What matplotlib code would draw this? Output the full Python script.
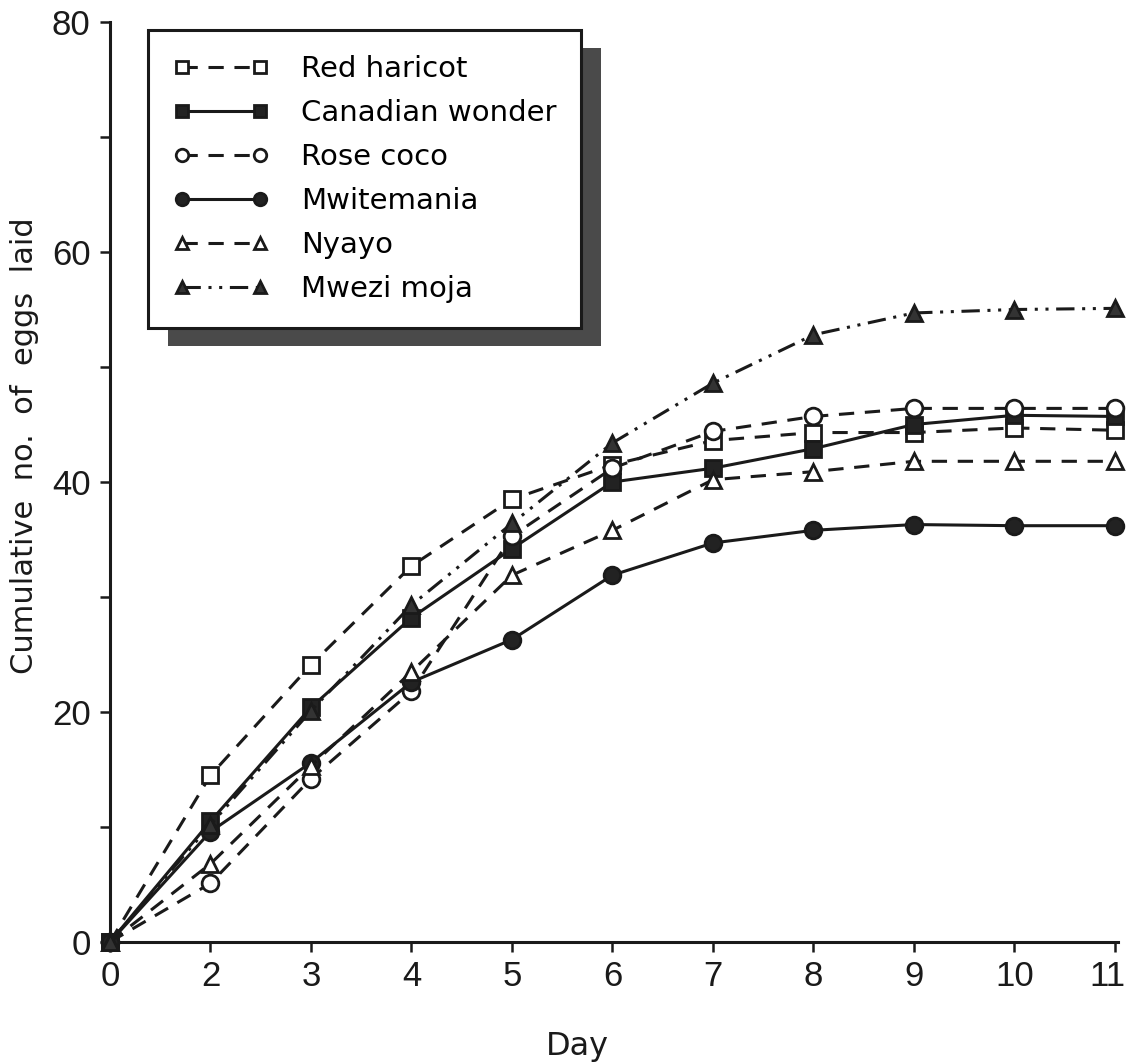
import matplotlib
matplotlib.use("Agg")
import matplotlib.pyplot as plt
from matplotlib.patches import Rectangle
from matplotlib.transforms import IdentityTransform, ScaledTranslation

# cumulative eggs laid per bean variety
day_labels = ["0", "2", "3", "4", "5", "6", "7", "8", "9", "10", "11"]
red_haricot = [0, 14.5, 24.1, 32.7, 38.5, 41.5, 43.6, 44.3, 44.3, 44.7, 44.5]
canadian_wonder = [0, 10.5, 20.4, 28.2, 34.2, 40.0, 41.2, 42.9, 45.0, 45.8, 45.7]
rose_coco = [0, 5.1, 14.2, 21.8, 35.3, 41.2, 44.4, 45.7, 46.4, 46.4, 46.4]
mwitemania = [0, 9.6, 15.6, 22.6, 26.3, 31.9, 34.7, 35.8, 36.3, 36.2, 36.2]
nyayo = [0, 6.8, 15.3, 23.5, 31.9, 35.8, 40.2, 40.9, 41.8, 41.8, 41.8]
mwezi_moja = [0, 10.2, 20.1, 29.3, 36.4, 43.4, 48.6, 52.8, 54.7, 55.0, 55.1]

plt.rcParams["font.family"] = ["DejaVu Sans"]
tick_font = ["Liberation Sans", "DejaVu Sans"]

fig = plt.figure(figsize=(11.29, 10.62), dpi=100)
ax = fig.add_axes([110 / 1129, 120 / 1062, 1008 / 1129, 920 / 1062])

pos = list(range(len(day_labels)))
dash = (0, (5, 3.5))
dashdotdot = (0, (6, 2.5, 1, 2.5, 1, 2.5))

series = [
    ("Red haricot", red_haricot, "s", "white", dash),
    ("Canadian wonder", canadian_wonder, "s", "#222222", "-"),
    ("Rose coco", rose_coco, "o", "white", dash),
    ("Mwitemania", mwitemania, "o", "#222222", "-"),
    ("Nyayo", nyayo, "^", "white", dash),
    ("Mwezi moja", mwezi_moja, "^", "#333333", dashdotdot),
]

for i, (name, vals, marker, face, ls) in enumerate(series):
    ax.plot(pos, vals, linestyle=ls, color="#1a1a1a", linewidth=2.2,
            marker=marker, markersize=12, markerfacecolor=face,
            markeredgecolor="#1a1a1a", markeredgewidth=2.0,
            label=name, clip_on=False, zorder=3 + i * 0.1)

ax.set_xlim(0, 10.03)
ax.set_ylim(0, 80)
ax.set_xticks(pos)
ax.set_xticklabels(day_labels, family=tick_font)
ax.set_yticks([0, 20, 40, 60, 80])
ax.set_yticklabels(["0", "20", "40", "60", "80"], family=tick_font)
ax.set_yticks([10, 30, 50, 70], minor=True)

for side in ("top", "right"):
    ax.spines[side].set_visible(False)
for side in ("left", "bottom"):
    ax.spines[side].set_linewidth(2.2)
    ax.spines[side].set_color("#1a1a1a")

ax.tick_params(axis="both", which="both", direction="out", width=1.8,
               length=7, color="#1a1a1a", labelsize=25, labelcolor="#1a1a1a")
ax.tick_params(axis="x", pad=6)
ax.tick_params(axis="y", pad=7)
# the last label sits against the figure edge, nudge it a little left
last = ax.xaxis.get_major_ticks()[-1].label1
last.set_transform(last.get_transform() + ScaledTranslation(-0.08, 0, fig.dpi_scale_trans))

ax.set_xlabel("Day", fontsize=23, color="#1a1a1a")
ax.xaxis.set_label_coords(0.464, -0.097)
ax.set_ylabel("Cumulative  no.  of  eggs  laid", fontsize=22, color="#1a1a1a")
ax.yaxis.set_label_coords(-0.07, 0.54)

leg = ax.legend(loc="upper left", bbox_to_anchor=(0.0377, 0.991),
                borderaxespad=0, fontsize=21, frameon=True, fancybox=False,
                framealpha=1, edgecolor="#1a1a1a", handlelength=3.3,
                handletextpad=1.1, labelspacing=0.55, borderpad=0.85,
                markerscale=0.75, numpoints=2)
leg.get_frame().set_linewidth(2.2)
leg.set_zorder(6)

# heavy drop shadow behind the legend box
fig.canvas.draw()
bb = leg.get_window_extent()
shadow = Rectangle((bb.x0 + 20, bb.y0 - 18), bb.width, bb.height,
                   transform=IdentityTransform(), facecolor="#4a4a4a",
                   edgecolor="none", zorder=5.5)
ax.add_patch(shadow)

fig.savefig("out.png", dpi=100)
